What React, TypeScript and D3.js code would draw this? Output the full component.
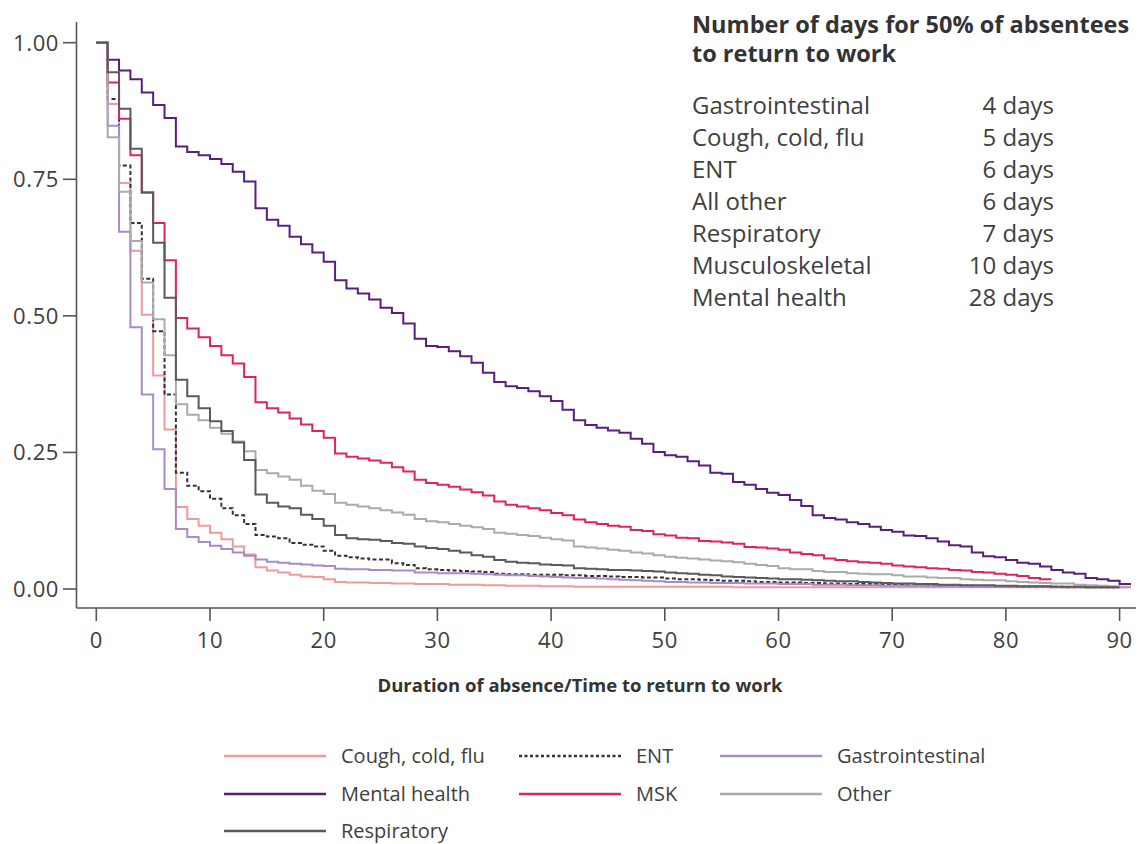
import React from 'react';
import * as d3 from 'd3';

// survival share still absent, one value per day (index = day)
const coughValues = [
  1.0, 0.888, 0.743, 0.619, 0.502, 0.391, 0.292, 0.15, 0.128, 0.116,
  0.103, 0.091, 0.078, 0.063, 0.04, 0.034, 0.03, 0.026, 0.023, 0.022,
  0.018, 0.013, 0.012, 0.012, 0.011, 0.011, 0.01, 0.01, 0.009, 0.009,
  0.009, 0.008, 0.008, 0.008, 0.007, 0.007, 0.006, 0.006, 0.006, 0.005,
  0.005, 0.005, 0.004, 0.004, 0.004, 0.004, 0.004, 0.004, 0.004, 0.004,
  0.004, 0.004, 0.004, 0.004, 0.004, 0.004, 0.003, 0.003, 0.003, 0.003,
  0.003, 0.003, 0.003, 0.003, 0.003, 0.003, 0.003, 0.003, 0.003, 0.003,
  0.003, 0.003, 0.003, 0.003, 0.003, 0.003, 0.003, 0.003, 0.003, 0.003,
  0.003, 0.003, 0.003, 0.003, 0.003, 0.003, 0.003, 0.003, 0.003, 0.003,
  0.003,
];

const entValues = [
  1.0, 0.897, 0.775, 0.67, 0.568, 0.472, 0.356, 0.213, 0.189, 0.179,
  0.165, 0.148, 0.135, 0.119, 0.099, 0.096, 0.093, 0.084, 0.081, 0.078,
  0.07, 0.061, 0.058, 0.056, 0.054, 0.054, 0.047, 0.044, 0.038, 0.036,
  0.035, 0.034, 0.033, 0.032, 0.031, 0.028, 0.027, 0.027, 0.026, 0.026,
  0.026, 0.025, 0.025, 0.024, 0.024, 0.023, 0.022, 0.022, 0.021, 0.021,
  0.019, 0.018, 0.018, 0.017, 0.016, 0.015, 0.015, 0.014, 0.013, 0.013,
  0.012, 0.012, 0.011, 0.011, 0.01, 0.01, 0.009, 0.009, 0.009, 0.008,
  0.008, 0.007, 0.007, 0.007, 0.006, 0.006, 0.006, 0.005, 0.005, 0.005,
  0.004, 0.004, 0.004, 0.004, 0.004, 0.003, 0.003, 0.003, 0.003, 0.003,
];

const gastroValues = [
  1.0, 0.848, 0.654, 0.479, 0.356, 0.256, 0.183, 0.11, 0.095, 0.086,
  0.079, 0.073, 0.067, 0.061, 0.054, 0.05, 0.048, 0.046, 0.045, 0.043,
  0.042, 0.037, 0.036, 0.036, 0.035, 0.035, 0.034, 0.034, 0.03, 0.03,
  0.029, 0.029, 0.029, 0.028, 0.027, 0.026, 0.025, 0.025, 0.024, 0.023,
  0.022, 0.021, 0.02, 0.02, 0.019, 0.018, 0.017, 0.016, 0.015, 0.014,
  0.013, 0.013, 0.012, 0.012, 0.011, 0.011, 0.011, 0.01, 0.01, 0.01,
  0.009, 0.009, 0.009, 0.008, 0.008, 0.008, 0.007, 0.007, 0.007, 0.006,
  0.006, 0.006, 0.006, 0.005, 0.005, 0.005, 0.005, 0.005, 0.004, 0.004,
  0.004, 0.004, 0.004, 0.004, 0.003, 0.003, 0.003, 0.003, 0.003, 0.003,
  0.003,
];

const mentalValues = [
  1.0, 0.969, 0.949, 0.933, 0.909, 0.886, 0.862, 0.81, 0.8, 0.794,
  0.787, 0.778, 0.764, 0.746, 0.697, 0.676, 0.665, 0.645, 0.631, 0.616,
  0.599, 0.565, 0.55, 0.541, 0.53, 0.515, 0.505, 0.486, 0.458, 0.445,
  0.443, 0.435, 0.426, 0.414, 0.396, 0.379, 0.371, 0.368, 0.362, 0.353,
  0.344, 0.328, 0.309, 0.3, 0.295, 0.29, 0.286, 0.275, 0.266, 0.251,
  0.245, 0.242, 0.234, 0.226, 0.213, 0.211, 0.196, 0.191, 0.183, 0.176,
  0.172, 0.163, 0.152, 0.135, 0.13, 0.127, 0.122, 0.119, 0.114, 0.108,
  0.105, 0.098, 0.097, 0.093, 0.087, 0.08, 0.078, 0.067, 0.06, 0.058,
  0.053, 0.048, 0.046, 0.041, 0.035, 0.03, 0.028, 0.02, 0.018, 0.015,
  0.009,
];

const mskValues = [
  1.0, 0.927, 0.861, 0.794, 0.726, 0.67, 0.602, 0.496, 0.477, 0.461,
  0.445, 0.428, 0.413, 0.388, 0.342, 0.331, 0.323, 0.312, 0.301, 0.289,
  0.277, 0.248, 0.242, 0.239, 0.235, 0.231, 0.223, 0.215, 0.2, 0.194,
  0.191, 0.187, 0.182, 0.177, 0.171, 0.16, 0.154, 0.151, 0.148, 0.144,
  0.139, 0.135, 0.127, 0.122, 0.119, 0.116, 0.114, 0.108, 0.106, 0.1,
  0.098, 0.094, 0.093, 0.088, 0.087, 0.085, 0.083, 0.077, 0.076, 0.074,
  0.072, 0.067, 0.064, 0.062, 0.056, 0.053, 0.051, 0.049, 0.048, 0.046,
  0.043, 0.041, 0.04, 0.038, 0.037, 0.035, 0.034, 0.031, 0.03, 0.028,
  0.026, 0.024, 0.02, 0.018,
];

const otherValues = [
  1.0, 0.827, 0.727, 0.637, 0.561, 0.494, 0.428, 0.338, 0.319, 0.309,
  0.295, 0.284, 0.27, 0.252, 0.218, 0.212, 0.206, 0.2, 0.189, 0.18,
  0.174, 0.158, 0.154, 0.151, 0.148, 0.144, 0.14, 0.136, 0.128, 0.124,
  0.122, 0.119, 0.116, 0.113, 0.11, 0.103, 0.101, 0.099, 0.097, 0.094,
  0.091, 0.089, 0.078, 0.076, 0.074, 0.072, 0.07, 0.067, 0.065, 0.062,
  0.059, 0.057, 0.056, 0.054, 0.052, 0.051, 0.049, 0.046, 0.044, 0.042,
  0.038, 0.036, 0.036, 0.033, 0.031, 0.031, 0.029, 0.028, 0.027, 0.027,
  0.025, 0.023, 0.023, 0.021, 0.02, 0.02, 0.018, 0.017, 0.016, 0.016,
  0.014, 0.013, 0.012, 0.011, 0.01, 0.01, 0.008, 0.007, 0.006, 0.005,
  0.004,
];

const respValues = [
  1.0, 0.946, 0.879, 0.806, 0.726, 0.634, 0.533, 0.383, 0.353, 0.331,
  0.307, 0.289, 0.268, 0.236, 0.173, 0.158, 0.151, 0.148, 0.136, 0.128,
  0.116, 0.099, 0.093, 0.091, 0.09, 0.088, 0.084, 0.083, 0.078, 0.075,
  0.073, 0.07, 0.067, 0.062, 0.059, 0.053, 0.05, 0.048, 0.047, 0.045,
  0.044, 0.043, 0.038, 0.037, 0.036, 0.035, 0.035, 0.034, 0.033, 0.032,
  0.03, 0.029, 0.028, 0.026, 0.025, 0.023, 0.022, 0.021, 0.02, 0.019,
  0.018, 0.018, 0.017, 0.016, 0.015, 0.014, 0.014, 0.013, 0.012, 0.011,
  0.01, 0.01, 0.009, 0.009, 0.008, 0.008, 0.007, 0.007, 0.007, 0.006,
  0.006, 0.005, 0.005, 0.005, 0.004, 0.004, 0.004, 0.003, 0.003, 0.003,
];

const xTicks = [0, 10, 20, 30, 40, 50, 60, 70, 80, 90];
const yTicks = [0, 0.25, 0.5, 0.75, 1.0];

const medianLabels = ['Gastrointestinal', 'Cough, cold, flu', 'ENT', 'All other', 'Respiratory', 'Musculoskeletal', 'Mental health'];
const medianDays = [4, 5, 6, 6, 7, 10, 28];

const series = [
  { name: 'Cough, cold, flu', values: coughValues, color: '#f09a9c', dash: null },
  { name: 'ENT', values: entValues, color: '#333333', dash: '4,2.5' },
  { name: 'Gastrointestinal', values: gastroValues, color: '#a98bc6', dash: null },
  { name: 'Mental health', values: mentalValues, color: '#5a1f7d', dash: null },
  { name: 'MSK', values: mskValues, color: '#e0245a', dash: null },
  { name: 'Other', values: otherValues, color: '#ababac', dash: null },
  { name: 'Respiratory', values: respValues, color: '#5a5a5c', dash: null },
];

const font = '"Open Sans", "DejaVu Sans", sans-serif';
const ink = '#404040';

export default function App() {
  const x = d3.scaleLinear().domain([0, 90]).range([96.3, 1119.6]);
  const y = d3.scaleLinear().domain([0, 1]).range([589, 42.7]);

  const line = d3.line<[number, number]>()
    .x(d => x(d[0]))
    .y(d => y(d[1]))
    .curve(d3.curveStepAfter);

  const pathFor = (values: number[]) => {
    const pts: [number, number][] = values.map((v, i) => [i, v]);
    pts.push([values.length, values[values.length - 1]]);
    return line(pts) || '';
  };

  const axisLeft = 76.5;
  const axisBottom = 608;

  const legendCols = [224, 519, 720];
  const legendRows = [756, 794, 831];

  return (
    <div>
      <style>{'body{margin:0}'}</style>
      <svg width={1144} height={844} style={{ display: 'block', background: '#fff' }}>
        {/* axes */}
        <line x1={axisLeft} x2={axisLeft} y1={22} y2={axisBottom} stroke="#555" strokeWidth={1.6} />
        <line x1={axisLeft} x2={1136} y1={axisBottom} y2={axisBottom} stroke="#555" strokeWidth={1.6} />
        {yTicks.map(t => (
          <g key={'y' + t}>
            <line x1={63} x2={axisLeft} y1={y(t)} y2={y(t)} stroke="#555" strokeWidth={1.6} />
            <text x={59} y={y(t)} dy="0.36em" textAnchor="end" fontFamily={font} fontSize={22}
              letterSpacing={0.6} fill={ink}>
              {d3.format('.2f')(t)}
            </text>
          </g>
        ))}
        {xTicks.map(t => (
          <g key={'x' + t}>
            <line x1={x(t)} x2={x(t)} y1={axisBottom} y2={621} stroke="#555" strokeWidth={1.6} />
            <text x={x(t)} y={648} textAnchor="middle" fontFamily={font} fontSize={22} letterSpacing={0.6}
              fill={ink}>{t}</text>
          </g>
        ))}
        <text x={580} y={692} textAnchor="middle" fontFamily={font} fontSize={18.5} fontWeight={700} fill="#333">
          Duration of absence/Time to return to work
        </text>

        {/* curves */}
        {series.map(s => (
          <path key={s.name} d={pathFor(s.values)} fill="none" stroke={s.color} strokeWidth={2}
            strokeDasharray={s.dash || undefined} strokeLinejoin="miter" />
        ))}

        {/* median table */}
        <text x={692} y={33} fontFamily={font} fontSize={23.5} fontWeight={700} fill="#333">Number of days for 50% of absentees</text>
        <text x={692} y={62} fontFamily={font} fontSize={23.5} fontWeight={700} fill="#333">to return to work</text>
        {medianLabels.map((lab, i) => (
          <g key={lab}>
            <text x={692} y={114 + i * 32} fontFamily={font} fontSize={24} fill={ink}>{lab}</text>
            <text x={1054} y={114 + i * 32} textAnchor="end" fontFamily={font} fontSize={24} fill={ink}>
              {medianDays[i]} days
            </text>
          </g>
        ))}

        {/* legend */}
        {series.map((s, i) => {
          const cx = legendCols[i % 3];
          const cy = legendRows[Math.floor(i / 3)];
          return (
            <g key={'leg' + s.name}>
              <line x1={cx} x2={cx + 102} y1={cy} y2={cy} stroke={s.color} strokeWidth={2.5}
                strokeDasharray={s.dash ? '3,2.5' : undefined} />
              <text x={cx + 117} y={cy} dy="0.36em" fontFamily={font} fontSize={20} fill={ink}>{s.name}</text>
            </g>
          );
        })}
      </svg>
    </div>
  );
}
